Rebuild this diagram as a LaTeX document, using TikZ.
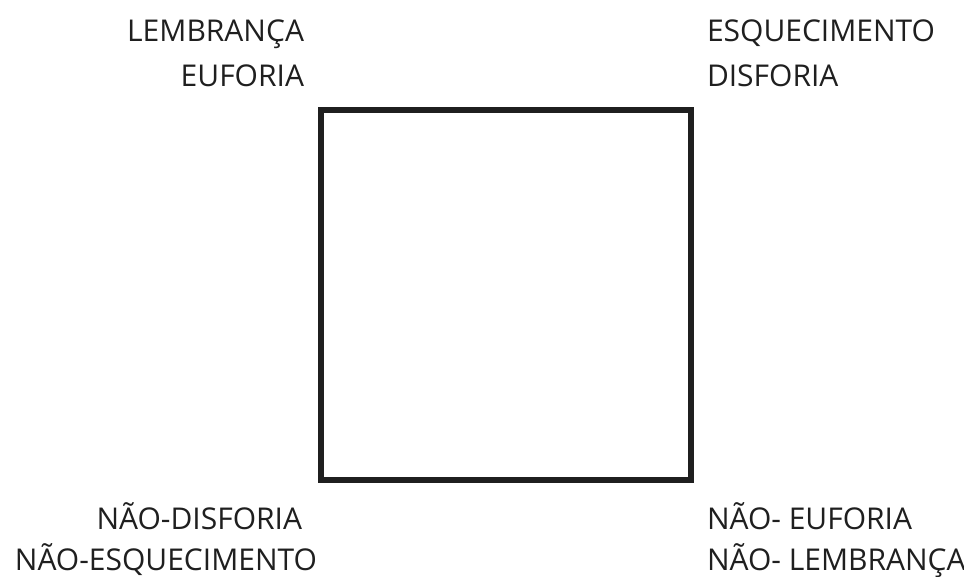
\documentclass[tikz,border=0pt]{standalone}
\usepackage{fontspec}
\setmainfont{Open Sans}
\begin{document}
\begin{tikzpicture}[x=1pt,y=-1pt,
  lbl/.style={inner sep=0pt, outer sep=0pt, font=\fontsize{30}{34}\selectfont, text=black!88},
  frame/.style={draw=black!88, line width=6pt, minimum size=370pt, inner sep=0pt}]
\useasboundingbox (0,0) rectangle (964,576);
\node[frame] (sq) at (506,295) {};
\node[lbl, anchor=base east] (l1) at (304,41.5) {LEMBRANÇA};
\node[lbl, anchor=base east] (l2) at (304,86) {EUFORIA};
\node[lbl, anchor=base west] (r1) at (707,41.5) {ESQUECIMENTO};
\node[lbl, anchor=base west] (r2) at (707,86) {DISFORIA};
\node[lbl, anchor=base east] (bl1) at (302,529.5) {NÃO-DISFORIA};
\node[lbl, anchor=base east] (bl2) at (317,570) {NÃO-ESQUECIMENTO};
\node[lbl, anchor=base west] (br1) at (707,529.5) {NÃO- EUFORIA};
\node[lbl, anchor=base west] (br2) at (707,570) {NÃO- LEMBRANÇA};
\end{tikzpicture}
\end{document}
